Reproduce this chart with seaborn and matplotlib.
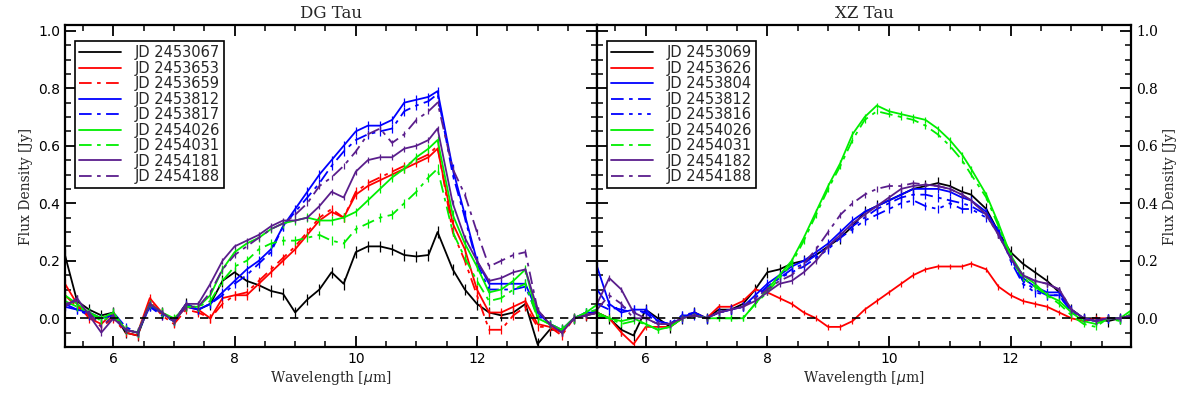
import numpy as np
import pandas as pd
import matplotlib
matplotlib.use("Agg")
import matplotlib.pyplot as plt
import seaborn as sns
from matplotlib.ticker import MultipleLocator, FormatStrFormatter

sns.set_theme(style="white")
plt.rcParams['font.family'] = ['DejaVu Serif']

# wavelength grid [micron]
wave = [5.2, 5.4, 5.6, 5.8, 6.0, 6.2, 6.4, 6.6, 6.8, 7.0, 7.2, 7.4, 7.6, 7.8,
        8.0, 8.2, 8.4, 8.6, 8.8, 9.0, 9.2, 9.4, 9.6, 9.8, 10.0, 10.2, 10.4,
        10.6, 10.8, 11.0, 11.2, 11.35, 11.6, 11.8, 12.0, 12.2, 12.4, 12.6,
        12.8, 13.0, 13.2, 13.4, 13.6, 13.8, 14.0]

# DG Tau
dg_labels = ['JD 2453067', 'JD 2453653', 'JD 2453659', 'JD 2453812', 'JD 2453817',
             'JD 2454026', 'JD 2454031', 'JD 2454181', 'JD 2454188']
dg_2453067 = [0.22, 0.06, 0.03, 0.01, 0.02, -0.05, -0.06, 0.05, 0.02, -0.01, 0.05, 0.03, 0.05, 0.13,
              0.16, 0.13, 0.115, 0.095, 0.085, 0.02, 0.065, 0.10, 0.16, 0.12, 0.23, 0.25, 0.25, 0.24,
              0.22, 0.215, 0.22, 0.30, 0.17, 0.10, 0.05, 0.02, 0.01, 0.02, 0.05, -0.09, -0.04, -0.04,
              0.0, 0.01, 0.02]
dg_2453653 = [0.12, 0.05, 0.0, -0.02, 0.02, -0.04, -0.05, 0.07, 0.02, -0.01, 0.04, 0.03, 0.0, 0.07,
              0.08, 0.08, 0.12, 0.16, 0.20, 0.24, 0.29, 0.34, 0.37, 0.35, 0.43, 0.46, 0.48, 0.50,
              0.52, 0.54, 0.56, 0.59, 0.33, 0.24, 0.10, 0.02, 0.02, 0.04, 0.06, -0.02, -0.03, -0.05,
              0.0, 0.01, 0.03]
dg_2453659 = [0.08, 0.04, 0.01, -0.03, 0.0, -0.05, -0.06, 0.06, 0.01, -0.02, 0.03, 0.02, 0.0, 0.05,
              0.08, 0.09, 0.13, 0.17, 0.21, 0.25, 0.30, 0.35, 0.38, 0.35, 0.44, 0.47, 0.49, 0.51,
              0.53, 0.55, 0.57, 0.60, 0.30, 0.20, 0.08, -0.04, -0.04, 0.01, 0.04, -0.03, -0.03, -0.06,
              0.0, 0.01, 0.02]
dg_2453812 = [0.05, 0.03, 0.02, 0.0, 0.01, -0.04, -0.05, 0.04, 0.02, -0.01, 0.05, 0.03, 0.05, 0.09,
              0.13, 0.17, 0.20, 0.24, 0.32, 0.38, 0.44, 0.50, 0.55, 0.60, 0.65, 0.67, 0.67, 0.69,
              0.75, 0.76, 0.77, 0.79, 0.52, 0.36, 0.20, 0.12, 0.12, 0.12, 0.12, 0.02, -0.02, -0.04,
              0.0, 0.02, 0.02]
dg_2453817 = [0.04, 0.03, 0.01, 0.0, 0.02, -0.03, -0.05, 0.04, 0.01, -0.01, 0.04, 0.03, 0.05, 0.08,
              0.12, 0.15, 0.19, 0.23, 0.32, 0.37, 0.42, 0.47, 0.53, 0.58, 0.62, 0.64, 0.65, 0.66,
              0.72, 0.74, 0.755, 0.78, 0.50, 0.35, 0.19, 0.10, 0.10, 0.10, 0.11, 0.01, -0.02, -0.04,
              0.0, 0.02, 0.03]
dg_2454026 = [0.08, 0.05, 0.02, 0.0, 0.02, -0.04, -0.05, 0.05, 0.02, 0.0, 0.04, 0.04, 0.08, 0.17,
              0.23, 0.26, 0.28, 0.31, 0.33, 0.34, 0.35, 0.34, 0.34, 0.35, 0.37, 0.41, 0.45, 0.49,
              0.52, 0.56, 0.59, 0.62, 0.36, 0.26, 0.18, 0.09, 0.10, 0.13, 0.17, 0.0, -0.02, -0.04,
              0.0, 0.02, 0.05]
dg_2454031 = [0.06, 0.04, 0.02, -0.01, 0.01, -0.04, -0.05, 0.05, 0.02, -0.01, 0.04, 0.04, 0.06, 0.13,
              0.18, 0.20, 0.24, 0.26, 0.27, 0.27, 0.28, 0.29, 0.27, 0.26, 0.31, 0.33, 0.35, 0.36,
              0.40, 0.44, 0.49, 0.52, 0.30, 0.21, 0.13, 0.06, 0.07, 0.10, 0.12, 0.0, -0.02, -0.04,
              0.0, 0.02, 0.03]
dg_2454181 = [0.04, 0.07, 0.01, -0.05, 0.0, -0.04, -0.05, 0.05, 0.02, -0.01, 0.05, 0.05, 0.12, 0.20,
              0.25, 0.27, 0.29, 0.32, 0.34, 0.34, 0.35, 0.39, 0.44, 0.42, 0.51, 0.55, 0.56, 0.56,
              0.59, 0.60, 0.62, 0.66, 0.40, 0.28, 0.20, 0.13, 0.14, 0.16, 0.17, 0.03, -0.02, -0.05,
              0.0, 0.01, 0.02]
dg_2454188 = [0.05, 0.06, 0.02, -0.03, 0.01, -0.04, -0.05, 0.05, 0.02, -0.01, 0.04, 0.04, 0.09, 0.17,
              0.22, 0.25, 0.28, 0.31, 0.33, 0.36, 0.40, 0.46, 0.49, 0.53, 0.58, 0.64, 0.66, 0.61,
              0.64, 0.69, 0.72, 0.75, 0.52, 0.43, 0.30, 0.18, 0.20, 0.22, 0.23, 0.03, -0.02, -0.05,
              0.0, 0.01, 0.02]
dg_err = [0.02, 0.015, 0.015, 0.015, 0.015, 0.015, 0.015, 0.01, 0.01]

# XZ Tau
xz_labels = ['JD 2453069', 'JD 2453626', 'JD 2453804', 'JD 2453812', 'JD 2453816',
             'JD 2454026', 'JD 2454031', 'JD 2454182', 'JD 2454188']
xz_2453069 = [0.02, 0.0, -0.04, -0.06, 0.03, 0.0, -0.03, 0.0, 0.02, 0.0, 0.03, 0.03, 0.05, 0.10,
              0.16, 0.17, 0.19, 0.20, 0.22, 0.25, 0.28, 0.32, 0.37, 0.39, 0.41, 0.43, 0.45, 0.46,
              0.47, 0.46, 0.44, 0.43, 0.38, 0.30, 0.23, 0.19, 0.16, 0.13, 0.09, 0.03, 0.0, 0.0,
              -0.01, 0.0, 0.01]
xz_2453626 = [0.02, 0.0, -0.05, -0.09, -0.03, -0.03, -0.03, 0.0, 0.02, 0.0, 0.04, 0.04, 0.06, 0.10,
              0.09, 0.07, 0.05, 0.02, 0.0, -0.03, -0.03, -0.01, 0.03, 0.06, 0.09, 0.12, 0.15, 0.17,
              0.18, 0.18, 0.18, 0.19, 0.17, 0.11, 0.08, 0.06, 0.05, 0.04, 0.02, 0.0, -0.01, 0.0,
              0.0, 0.0, 0.01]
xz_2453804 = [0.18, 0.05, 0.02, 0.03, 0.03, -0.01, -0.02, 0.0, 0.02, 0.0, 0.02, 0.03, 0.04, 0.08,
              0.12, 0.15, 0.18, 0.20, 0.23, 0.26, 0.30, 0.34, 0.37, 0.39, 0.41, 0.43, 0.45, 0.45,
              0.45, 0.44, 0.42, 0.41, 0.37, 0.30, 0.21, 0.14, 0.11, 0.09, 0.09, 0.03, 0.0, -0.01,
              0.0, 0.0, 0.01]
xz_2453812 = [0.10, 0.04, 0.03, 0.02, 0.02, -0.02, -0.02, 0.01, 0.02, 0.0, 0.02, 0.03, 0.04, 0.07,
              0.11, 0.14, 0.17, 0.19, 0.22, 0.25, 0.29, 0.32, 0.35, 0.38, 0.40, 0.42, 0.43, 0.43,
              0.42, 0.41, 0.40, 0.39, 0.36, 0.30, 0.21, 0.13, 0.10, 0.08, 0.08, 0.02, 0.0, -0.01,
              0.0, 0.0, 0.01]
xz_2453816 = [0.05, 0.03, 0.04, 0.03, 0.02, -0.01, -0.02, 0.01, 0.01, 0.0, 0.02, 0.03, 0.04, 0.07,
              0.11, 0.14, 0.16, 0.18, 0.21, 0.24, 0.28, 0.31, 0.34, 0.36, 0.38, 0.40, 0.41, 0.39,
              0.38, 0.40, 0.38, 0.38, 0.35, 0.31, 0.20, 0.12, 0.09, 0.08, 0.08, 0.02, 0.0, -0.01,
              0.0, 0.0, 0.01]
xz_2454026 = [0.02, 0.0, -0.01, 0.0, -0.02, -0.04, -0.03, 0.0, 0.01, 0.0, 0.0, 0.0, 0.0, 0.05,
              0.10, 0.15, 0.20, 0.28, 0.37, 0.46, 0.54, 0.64, 0.70, 0.74, 0.72, 0.71, 0.70, 0.69,
              0.66, 0.62, 0.57, 0.52, 0.43, 0.33, 0.22, 0.15, 0.12, 0.08, 0.06, 0.02, -0.01, -0.02,
              0.0, 0.0, 0.03]
xz_2454031 = [0.01, 0.0, -0.02, -0.01, -0.02, -0.04, -0.03, 0.0, 0.01, 0.0, 0.0, 0.0, 0.0, 0.05,
              0.09, 0.14, 0.19, 0.27, 0.36, 0.45, 0.53, 0.62, 0.69, 0.72, 0.71, 0.70, 0.69, 0.67,
              0.64, 0.60, 0.55, 0.50, 0.42, 0.32, 0.21, 0.14, 0.11, 0.08, 0.05, 0.01, -0.02, -0.03,
              0.0, -0.01, 0.02]
xz_2454182 = [0.05, 0.14, 0.10, 0.02, 0.0, -0.02, -0.02, 0.0, 0.01, 0.0, 0.02, 0.03, 0.04, 0.06,
              0.09, 0.12, 0.13, 0.16, 0.20, 0.25, 0.29, 0.33, 0.36, 0.39, 0.42, 0.45, 0.46, 0.465,
              0.46, 0.45, 0.43, 0.41, 0.36, 0.29, 0.21, 0.15, 0.13, 0.12, 0.10, 0.03, 0.0, -0.01,
              0.0, 0.0, 0.01]
xz_2454188 = [0.03, 0.08, 0.05, 0.0, 0.0, -0.02, -0.02, 0.0, 0.01, 0.0, 0.02, 0.03, 0.04, 0.07,
              0.10, 0.13, 0.15, 0.19, 0.24, 0.30, 0.36, 0.40, 0.43, 0.45, 0.46, 0.46, 0.47, 0.465,
              0.46, 0.45, 0.43, 0.41, 0.36, 0.29, 0.21, 0.15, 0.13, 0.12, 0.10, 0.03, 0.0, -0.01,
              0.0, 0.0, 0.01]
xz_err = [0.02, 0.01, 0.015, 0.015, 0.015, 0.01, 0.01, 0.01, 0.01]

purple = '#5a1e8c'
dashdot = (0, (7, 3, 2, 3))
dashdot3 = (0, (7, 3, 2, 3, 2, 3, 2, 3))
dg_colors = ['black', 'red', 'red', 'blue', 'blue', '#00ee00', '#00ee00', purple, purple]
dg_styles = ['-', '-', dashdot, '-', dashdot, '-', dashdot, '-', dashdot]
xz_colors = ['black', 'red', 'blue', 'blue', 'blue', '#00ee00', '#00ee00', purple, purple]
xz_styles = ['-', '-', '-', dashdot, dashdot3, '-', dashdot, '-', dashdot]

dg_series = [dg_2453067, dg_2453653, dg_2453659, dg_2453812, dg_2453817,
             dg_2454026, dg_2454031, dg_2454181, dg_2454188]
xz_series = [xz_2453069, xz_2453626, xz_2453804, xz_2453812, xz_2453816,
             xz_2454026, xz_2454031, xz_2454182, xz_2454188]

fig = plt.figure(figsize=(11.96, 3.99), dpi=100)
ax1 = fig.add_axes([0.0543, 0.1303, 0.4448, 0.807])
ax2 = fig.add_axes([0.4992, 0.1303, 0.4465, 0.807])

panels = [(ax1, 'DG Tau', dg_labels, dg_series, dg_colors, dg_styles, dg_err),
          (ax2, 'XZ Tau', xz_labels, xz_series, xz_colors, xz_styles, xz_err)]

for ax, title, labels, series, colors, styles, errs in panels:
    for lab, vals, col, ls, e in zip(labels, series, colors, styles, errs):
        df = pd.DataFrame({'wave': wave, 'flux': vals})
        sns.lineplot(data=df, x='wave', y='flux', ax=ax, color=col, linestyle=ls,
                     linewidth=1.3, label=lab, legend=False)
        ax.errorbar(wave, vals, yerr=e, fmt='none', ecolor=col, elinewidth=0.9, capsize=0)
    ax.axhline(0, color='black', linestyle=(0, (5, 4)), linewidth=1.2)
    ax.set_xlim(5.2, 13.98)
    ax.set_ylim(-0.1, 1.02)
    ax.xaxis.set_major_locator(MultipleLocator(2))
    ax.xaxis.set_minor_locator(MultipleLocator(0.5))
    ax.yaxis.set_major_locator(MultipleLocator(0.2))
    ax.yaxis.set_minor_locator(MultipleLocator(0.05))
    ax.yaxis.set_major_formatter(FormatStrFormatter('%.1f'))
    ax.tick_params(which='both', direction='in', top=True, right=True, left=True, bottom=True,
                   labelsize=10, colors='black')
    ax.tick_params(which='major', length=8, width=1.3)
    ax.tick_params(which='minor', length=4, width=1.1)
    for t in ax.get_xticklabels() + ax.get_yticklabels():
        t.set_family('DejaVu Sans')
    for sp in ax.spines.values():
        sp.set_linewidth(1.6)
        sp.set_color('black')
    ax.set_title(title, fontsize=12, pad=5)
    ax.set_xlabel(r'Wavelength [$\mu$m]', fontsize=10, labelpad=2)
    ax.set_ylabel('Flux Density [Jy]', fontsize=10)
    leg = ax.legend(loc='upper left', bbox_to_anchor=(0.018, 0.95),
                    fancybox=False, framealpha=1, edgecolor='black', handlelength=2.9,
                    handletextpad=0.9, labelspacing=0.03, borderpad=0.3, borderaxespad=0,
                    prop={'family': 'DejaVu Sans', 'size': 10.5})
    leg.get_frame().set_linewidth(1.2)

ax2.yaxis.tick_right()
ax2.yaxis.set_label_position('right')
ax2.tick_params(which='both', left=True, right=True, labelleft=False, labelright=True)

fig.savefig('out.png', dpi=100)
